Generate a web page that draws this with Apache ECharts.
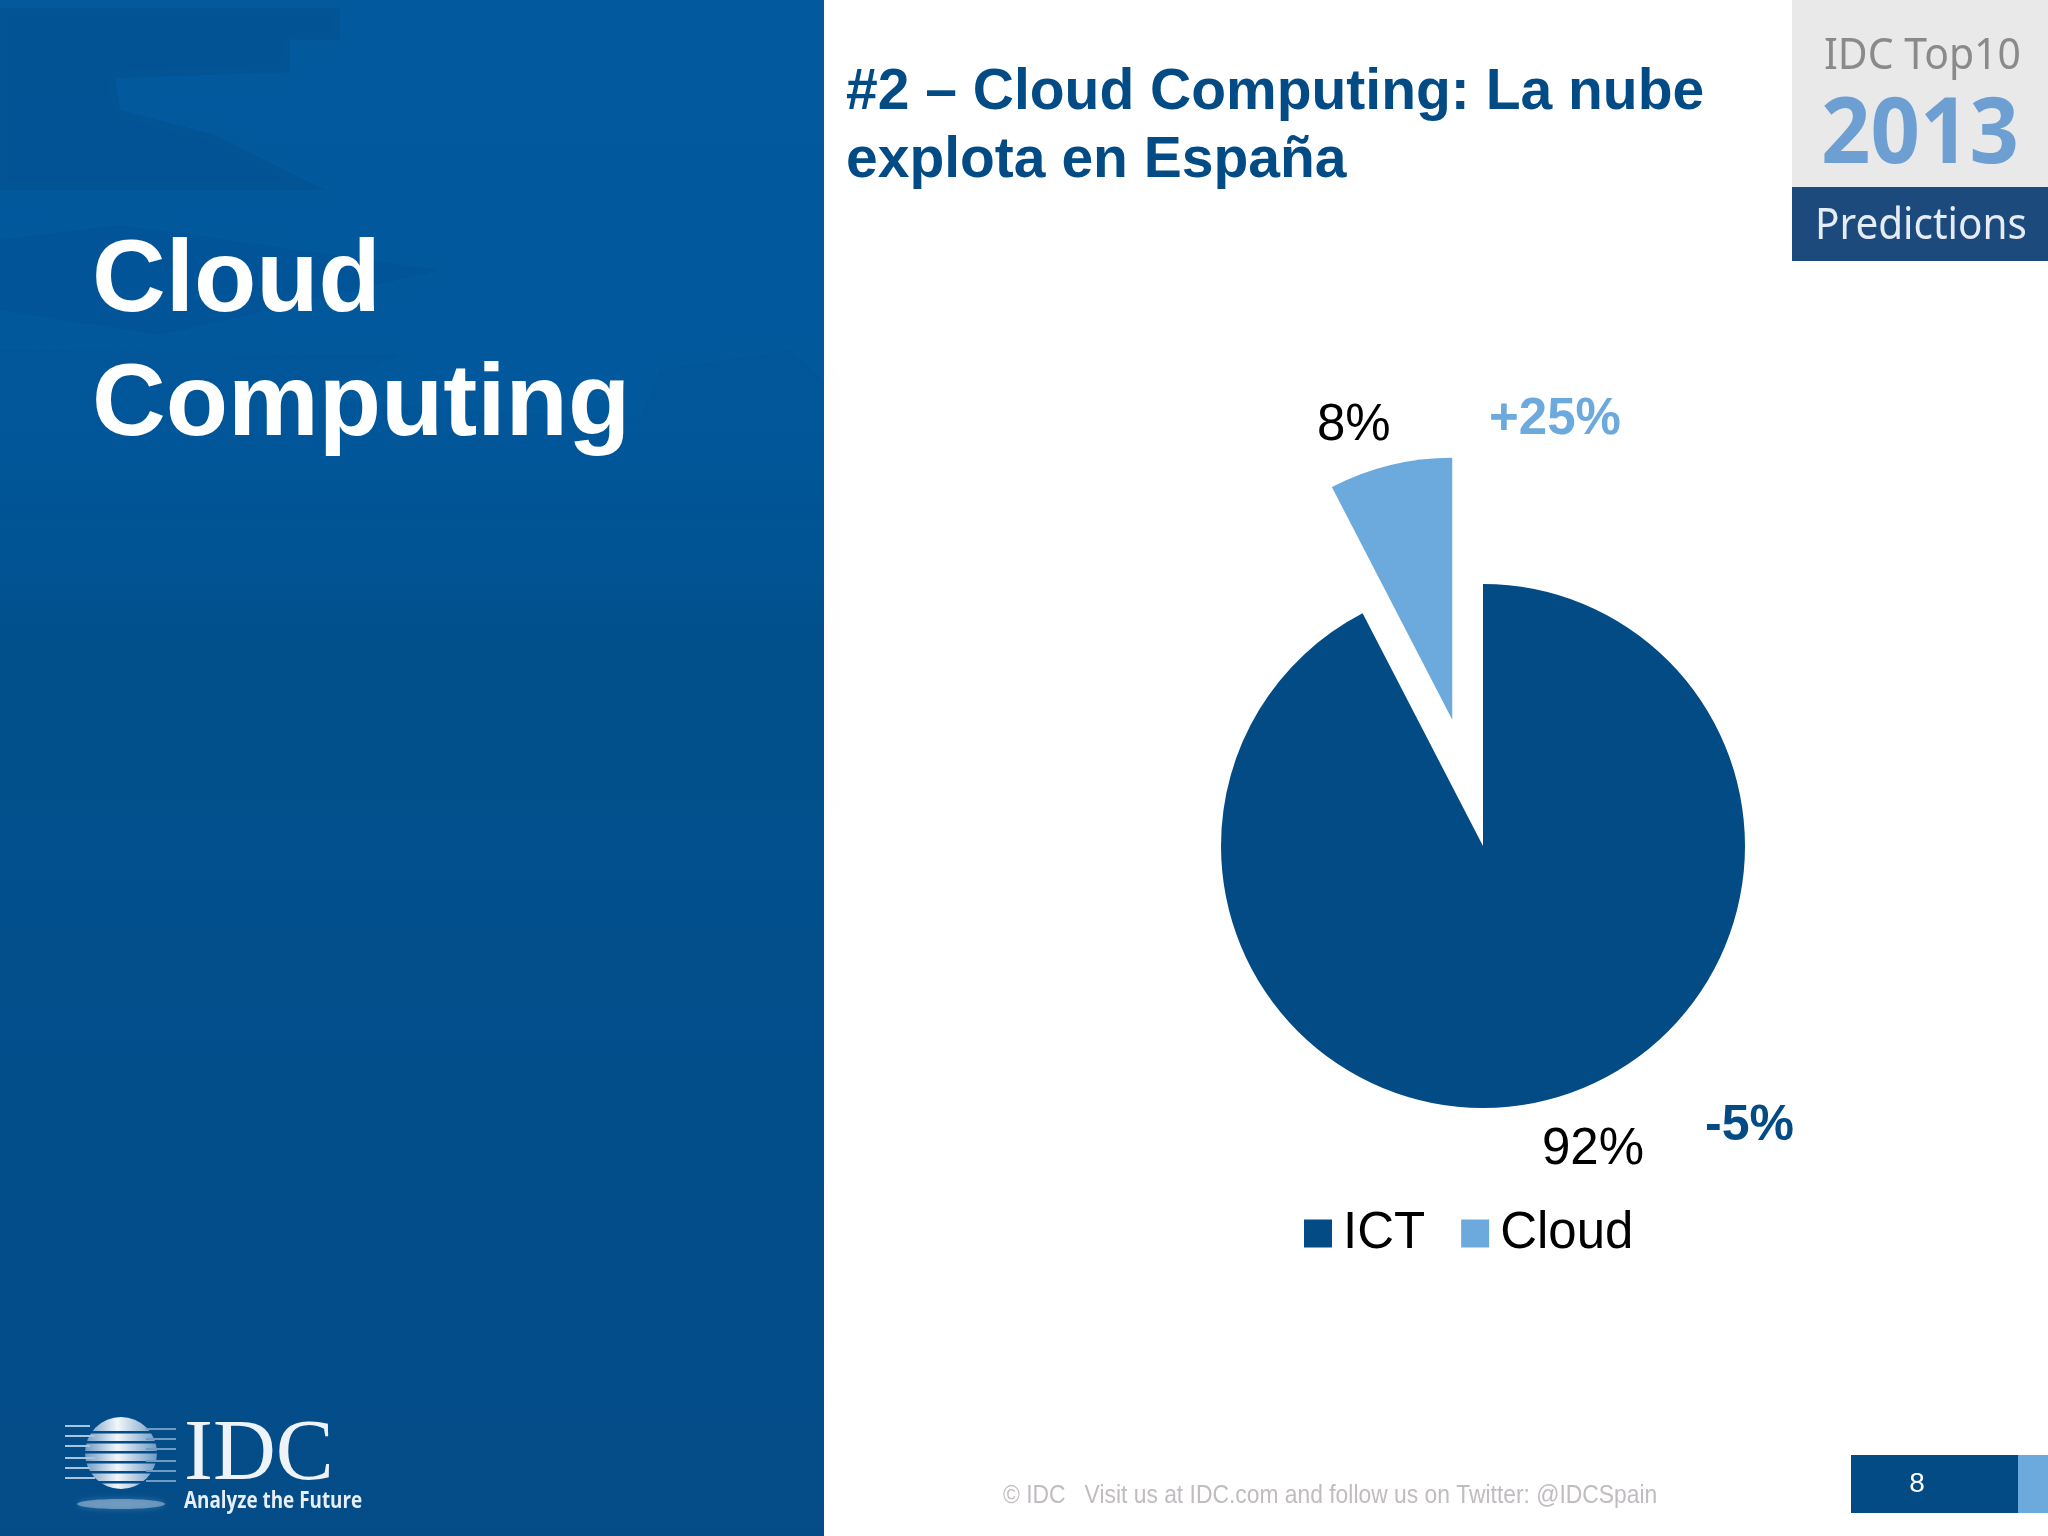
<!DOCTYPE html>
<html>
<head>
<meta charset="utf-8">
<title>Cloud Computing</title>
<script src="https://cdn.jsdelivr.net/npm/echarts@6/dist/echarts.min.js"></script>
<style>
html,body{margin:0;padding:0;background:#fff;}
#chart{width:2048px;height:1536px;}
</style>
</head>
<body>
<div id="chart"></div>
<script>
var categories = ['ICT', 'Cloud'];
var shares = [92.4, 7.6];
var changes = ['-5%', '+25%'];

var DARK = '#034b85';
var LIGHT = '#6caadd';
var SANS = '"Liberation Sans", Arial, sans-serif';
var graphics = [];

// y is the baseline, the .35 brings it to the middle of the em box
function text(x, baseline, str, size, fill, opts) {
	opts = opts || {};
	graphics.push({
		type: 'text', x: x, y: baseline - size * 0.35, scaleX: opts.scaleX || 1, z: 5, silent: true,
		style: {
			text: str, fill: fill, fontSize: size, fontFamily: opts.family || SANS,
			fontWeight: opts.weight || 'normal', align: opts.align || 'left', verticalAlign: 'middle'
		}
	});
}
function rect(x, y, w, h, fill, z) {
	graphics.push({type: 'rect', z: z || 1, silent: true, shape: {x: x, y: y, width: w, height: h}, style: {fill: fill}});
}
function patch(points, fill) {
	graphics.push({type: 'polygon', z: 1, silent: true, shape: {points: points},
		style: {fill: fill, shadowBlur: 14, shadowColor: fill}});
}

// --- left panel
rect(0, 0, 824, 1536, new echarts.graphic.LinearGradient(0, 0, 0, 1, [
	{offset: 0, color: '#02599d'}, {offset: 0.3, color: '#01589c'},
	{offset: 0.42, color: '#02518f'}, {offset: 1, color: '#034c88'}
]));
patch([[0,8],[340,8],[340,40],[290,40],[290,72],[115,78],[120,110],[215,135],[325,190],[0,190]], 'rgba(3,60,115,0.18)');
patch([[0,240],[120,225],[440,270],[160,335],[0,310]], 'rgba(3,60,115,0.12)');
patch([[0,350],[400,355],[300,400],[640,420],[660,370],[790,350],[824,380],[824,800],[0,800]], 'rgba(3,60,115,0.06)');
text(92, 319, 'Cloud', 102, '#fff', {weight: 'bold'});
text(92, 443, 'Computing', 102, '#fff', {weight: 'bold'});

// --- IDC logo, bottom left
var sphereFill = new echarts.graphic.LinearGradient(0, 0, 1, 0, [
	{offset: 0, color: '#6f9bc4'}, {offset: 0.45, color: '#f2f6fa'}, {offset: 1, color: '#6d9ac5'}
]);
graphics.push({type: 'circle', z: 2, silent: true, shape: {cx: 121, cy: 1453, r: 36}, style: {fill: sphereFill}});
[1431, 1441, 1451, 1461, 1471, 1481].forEach(function (y) {
	rect(60, y, 120, 2.5, '#034c88', 3);
});
[1425, 1435, 1445, 1457, 1467, 1477].forEach(function (y, i) {
	rect(65, y, i % 2 ? 30 : 25, 2, '#a9c4de', 3);
	rect(146, y + 3, 30, 2, '#6f9bc4', 3);
});
graphics.push({type: 'ellipse', z: 2, silent: true, shape: {cx: 121, cy: 1504, rx: 44, ry: 5},
	style: {fill: 'rgba(170,195,220,0.55)', shadowBlur: 6, shadowColor: 'rgba(170,195,220,0.5)'}});
text(184, 1487, 'IDC', 87, '#eef3f8', {family: '"Liberation Serif", serif'});
text(184, 1510, 'Analyze the Future', 23, '#e8eef5', {family: '"Open Sans", sans-serif', weight: 'bold', scaleX: 0.82});

// --- heading
text(846, 113, '#2 – Cloud Computing: La nube', 57, DARK, {weight: 'bold'});
text(846, 181, 'explota en España', 57, DARK, {weight: 'bold'});

// --- predictions badge, top right
rect(1792, 0, 256, 187, '#e9e9e9');
rect(1792, 187, 256, 74, '#1c4a7c');
text(1824, 72, 'IDC Top10', 44, '#8a8a8a', {family: '"Noto Sans", sans-serif', scaleX: 0.93});
text(1821, 169, '2013', 92, '#6e9fd2', {family: '"Noto Sans", sans-serif', weight: 'bold', scaleX: 0.94});
text(1815, 242, 'Predictions', 44, '#e6ecf5', {family: '"Noto Sans", sans-serif', scaleX: 0.92});

// --- share labels, a pie label on the selected slice ignores labelLayout so they are drawn here
text(1542, 1168, Math.round(shares[0]) + '%', 51, '#000');
text(1317, 444, Math.round(shares[1]) + '%', 51, '#000');

// --- change labels next to the slices
text(1489, 438, changes[1], 51, LIGHT, {weight: 'bold'});
text(1705, 1144, changes[0], 50, DARK, {weight: 'bold'});

// --- footer
text(1003, 1505, '© IDC   Visit us at IDC.com and follow us on Twitter: @IDCSpain', 25, '#c0bcc0', {scaleX: 0.914});
rect(1851, 1455, 167, 58, DARK);
rect(2018, 1455, 30, 58, LIGHT);
text(1917, 1494, '8', 28, '#fff', {align: 'center'});

var myChart = echarts.init(document.getElementById('chart'), null, {renderer: 'canvas'});
myChart.setOption({
	animation: false,
	backgroundColor: '#fff',
	color: [DARK, LIGHT],
	graphic: graphics,
	legend: {
		data: categories,
		left: 1299,
		top: 1203,
		icon: 'rect',
		itemWidth: 28,
		itemHeight: 28,
		itemGap: 36,
		selectedMode: false,
		textStyle: {fontSize: 51, fontFamily: SANS, color: '#000', padding: [0, 0, 0, 6]}
	},
	series: [{
		type: 'pie',
		center: [1483, 846],
		radius: 262,
		startAngle: 90,
		selectedMode: 'single',
		selectedOffset: 130,
		emphasis: {disabled: true},
		itemStyle: {borderWidth: 0},
		label: {show: false},
		labelLine: {show: false},
		data: categories.map(function (name, i) {
			return {name: name, value: shares[i], selected: i === 1};
		})
	}]
});
</script>
</body>
</html>
